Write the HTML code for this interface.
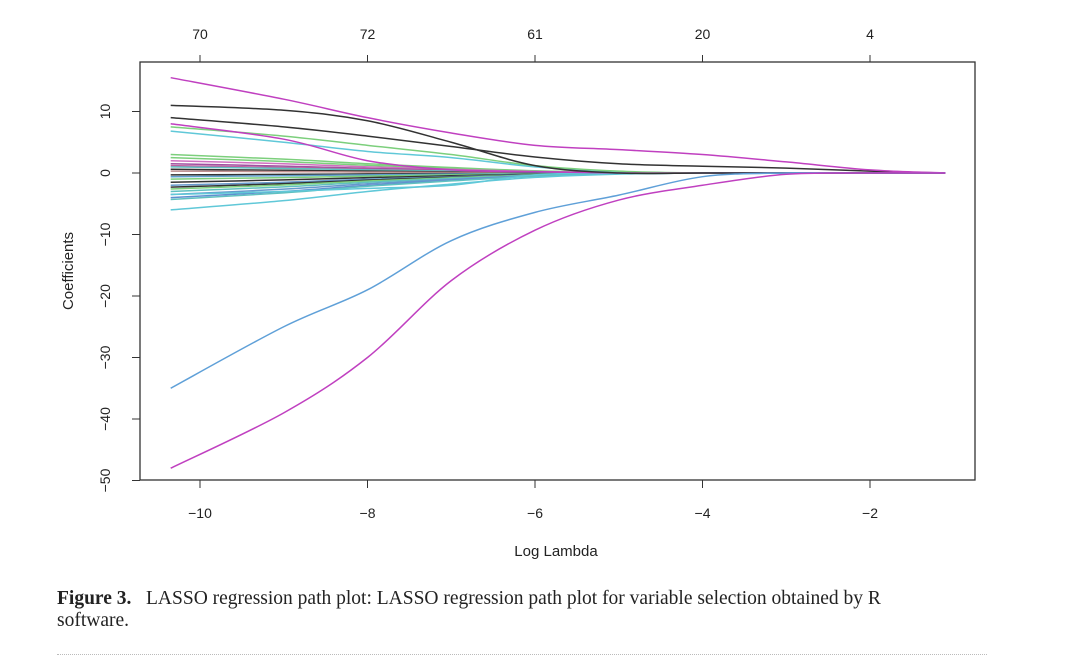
<!DOCTYPE html>
<html><head><meta charset="utf-8"><style>
body{margin:0;background:#fff;width:1080px;height:669px;overflow:hidden;position:relative}
svg text{font-family:"Liberation Sans",sans-serif;fill:#222}
.cap{position:absolute;left:57px;top:588px;width:980px;font-family:"Liberation Serif",serif;font-size:19.5px;line-height:22px;color:#222;white-space:nowrap}
.dots{position:absolute;left:57px;top:654px;width:930px;border-top:1px dotted #bbb}
</style></head><body>
<svg id="chart" width="1080" height="669" style="position:absolute;left:0;top:0">
<rect x="140" y="62" width="835" height="418" fill="none" stroke="#333" stroke-width="1.3"/>
<g id="lines"></g>
<g id="axes"></g>
<text x="556" y="556" font-size="15" text-anchor="middle">Log Lambda</text>
<text transform="translate(73,271) rotate(-90)" font-size="15" text-anchor="middle">Coefficients</text>
</svg>
<div class="cap"><b>Figure 3.</b>&nbsp;&nbsp; LASSO regression path plot: LASSO regression path plot for variable selection obtained by R<br>software.</div>
<div class="dots"></div>
<script>
const lambdas=[-10.35,-9,-8,-7,-6,-5,-4,-3,-2,-1.1];
const xTicks=[-10,-8,-6,-4,-2];
const yTicks=[10,0,-10,-20,-30,-40,-50];
const topLabels=["70","72","61","20","4"];
const sPinkTop=[15.5,12,9,6.5,4.5,3.8,3,1.8,0.5,0];
const sBlack1=[11,10.2,8.5,5,1.2,0,0,0,0,0];
const sBlack2=[9,7.5,6,4.3,2.6,1.5,1.1,0.8,0.3,0];
const sGreen=[7.5,6,4.5,3,1.2,0.3,0,0,0,0];
const sCyan=[6.8,5,3.5,2.5,1,0.2,0,0,0,0];
const sPink2=[8,5.5,2,0.5,0.2,0,0,0,0,0];
const sCyanDip=[-3.5,-3,-2.5,-2,-0.3,0,0,0,0,0];
const sBlueBig=[-35,-25,-19,-11,-6.4,-3.6,-0.6,0,0,0];
const sPinkBig=[-48,-39,-30,-17.5,-9.3,-4.4,-2,-0.2,0,0];
const smallStarts=[3,2.5,2,1.5,1.2,1,0.6,0.3,-0.3,-0.6,-1,-1.5,-2,-2.3,-2.6,-3,-3.5,-4,-4.3,-6];
const smallColors=["#7ccf7c","#7ccf7c","#d070c0","#a050a0","#c060a0","#60c0c0","#333","#c09090","#333","#60a0d0","#7ccf7c","#333","#6699cc","#333","#7ccf7c","#60c0c0","#6699cc","#5f8fd0","#60c0c0","#60c8d8"];
const X=v=>200+(v+10)*83.75;
const Y=v=>173-v*6.15;
const NS="http://www.w3.org/2000/svg";
const lines=document.getElementById('lines'),axes=document.getElementById('axes');
function path(vals,color,name){
  const p=document.createElementNS(NS,'path');
  const pts=lambdas.map((l,i)=>[X(l),Y(vals[i])]);
  let d="M"+pts[0][0]+","+pts[0][1];
  for(let i=1;i<pts.length;i++){
    const p0=pts[Math.max(0,i-2)],p1=pts[i-1],p2=pts[i],p3=pts[Math.min(pts.length-1,i+1)];
    const c1x=p1[0]+(p2[0]-p0[0])/6,c1y=p1[1]+(p2[1]-p0[1])/6,c2x=p2[0]-(p3[0]-p1[0])/6,c2y=p2[1]-(p3[1]-p1[1])/6;
    d+=` C${c1x},${c1y} ${c2x},${c2y} ${p2[0]},${p2[1]}`;
  }
  p.setAttribute('d',d);p.setAttribute('fill','none');p.setAttribute('stroke',color);p.setAttribute('stroke-width','1.5');
  
  
  lines.appendChild(p);
}
const decay=[1,0.75,0.5,0.3,0.12,0.03,0,0,0,0];
smallStarts.forEach((s,i)=>{
  const vals=lambdas.map((l,j)=>s*decay[j]);
  path(vals,smallColors[i],'coef-path-small');
});
path(sCyanDip,"#60c8d8",'coef-path-cyan-dip');
path(sCyan,"#60c8d8",'coef-path-cyan');
path(sGreen,"#7ccf7c",'coef-path-green');
path(sPink2,"#c040c0",'coef-path-pink-2');
path(sBlack2,"#333",'coef-path-black-2');
path(sBlack1,"#333",'coef-path-black-1');
path(sPinkTop,"#c040c0",'coef-path-pink-top');
path(sBlueBig,"#5fa0d8",'coef-path-blue-big');
path(sPinkBig,"#c040c0",'coef-path-pink-big');
function el(tag,attrs,txt){const e=document.createElementNS(NS,tag);for(const k in attrs)e.setAttribute(k,attrs[k]);if(txt!==undefined)e.textContent=txt;axes.appendChild(e);return e;}
xTicks.forEach((t,i)=>{
  const x=X(t);
  const a=el('line',{x1:x,x2:x,y1:480,y2:488,stroke:'#333'});
  
  
  const b=el('text',{x:x,y:518,'font-size':14,'text-anchor':'middle'},"\u2212"+Math.abs(t));
  
  
  const c=el('line',{x1:x,x2:x,y1:62,y2:55,stroke:'#333'});
  
  
  const d=el('text',{x:x,y:39,'font-size':14,'text-anchor':'middle'},topLabels[i]);
  
  
});
yTicks.forEach(t=>{
  const y=Y(t);
  const a=el('line',{x1:132,x2:140,y1:y,y2:y,stroke:'#333'});
  
  
  const b=el('text',{transform:`translate(110,${y}) rotate(-90)`,'font-size':14,'text-anchor':'middle'},t<0?"\u2212"+Math.abs(t):String(t));
  
  
});
</script>
</body></html>
